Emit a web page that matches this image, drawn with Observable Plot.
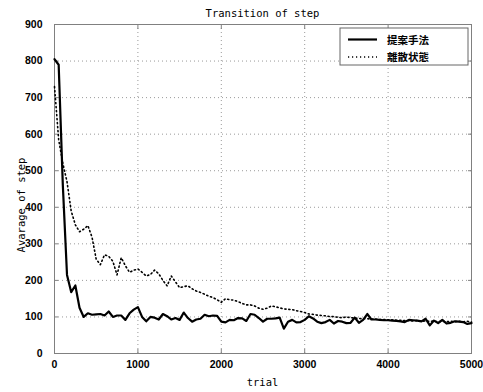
<!DOCTYPE html>
<html><head><meta charset="utf-8">
<script src="https://cdn.jsdelivr.net/npm/d3@7"></script>
<script src="https://cdn.jsdelivr.net/npm/@observablehq/plot@0.6"></script>
<style>body{margin:0;background:#fff} svg{display:block}</style>
</head><body><div id="chart"></div>
<script>
const trials = [0,50,100,150,200,250,300,350,400,450,500,550,600,650,700,750,800,850,900,950,
  1000,1050,1100,1150,1200,1250,1300,1350,1400,1450,1500,1550,1600,1650,1700,1750,1800,1850,1900,1950,
  2000,2050,2100,2150,2200,2250,2300,2350,2400,2450,2500,2550,2600,2650,2700,2750,2800,2850,2900,2950,
  3000,3050,3100,3150,3200,3250,3300,3350,3400,3450,3500,3550,3600,3650,3700,3750,3800,3850,3900,3950,
  4000,4050,4100,4150,4200,4250,4300,4350,4400,4450,4500,4550,4600,4650,4700,4750,4800,4850,4900,4950,5000];
const proposed = [805,790,460,215,168,186,125,100,110,106,107,108,104,115,100,104,104,92,110,120,
  127,100,88,100,98,93,108,102,93,97,92,112,97,87,93,95,106,102,104,103,
  87,85,92,91,97,96,89,108,106,97,87,95,95,96,98,68,87,92,85,86,
  92,102,96,87,83,86,92,82,89,87,83,84,98,84,92,108,93,93,92,91,
  91,90,89,88,86,92,91,90,88,95,77,90,83,92,82,84,88,87,86,81,83];
const discrete = [730,585,520,470,390,352,333,340,350,318,258,243,270,266,252,215,262,240,222,228,
  231,222,212,216,228,218,200,185,212,196,180,183,185,177,171,167,162,157,153,147,
  140,150,147,146,142,137,133,133,130,124,121,124,130,128,125,122,121,120,117,115,
  112,108,107,105,104,103,101,101,99,98,100,98,97,96,95,95,94,94,93,93,
  92,92,91,91,90,90,89,90,88,89,88,89,87,88,87,88,87,88,87,88,86];
const seriesNames = ["提案手法", "離散状態"];
const xTicks = [0, 1000, 2000, 3000, 4000, 5000];
const yTicks = [0, 100, 200, 300, 400, 500, 600, 700, 800, 900];
const titleText = "Transition of step";
const xLabel = "trial";
const yLabel = "Avarage of step";

const rowsProposed = trials.map((t, i) => ({trial: t, step: proposed[i], series: seriesNames[0]}));
const rowsDiscrete = trials.map((t, i) => ({trial: t, step: discrete[i], series: seriesNames[1]}));

const W = 483, H = 392, mT = 24, mR = 12, mB = 39, mL = 54;
const frameColor = "#808080";
const dotDash = "1.2,2.8";
const svg = Plot.plot({
  width: W, height: H,
  marginTop: mT, marginRight: mR, marginBottom: mB, marginLeft: mL,
  style: {fontFamily: "'Liberation Sans', Arial, sans-serif", fontSize: "10.5px", fontWeight: "bold", color: "#000", background: "#fff", overflow: "visible"},
  x: {domain: [0, 5000], ticks: xTicks, label: null},
  y: {domain: [0, 900], ticks: yTicks, label: null},
  marks: [
    Plot.gridX(xTicks, {stroke: "#9a9a9a", strokeOpacity: 1, strokeDasharray: "1,3"}),
    Plot.gridY(yTicks, {stroke: "#9a9a9a", strokeOpacity: 1, strokeDasharray: "1,3"}),
    Plot.axisX(xTicks, {anchor: "bottom", tickSize: -4, tickPadding: 11, tickFormat: d => String(d), stroke: frameColor, fill: "#000", label: null}),
    Plot.axisX(xTicks, {anchor: "top", tickSize: -4, tickFormat: () => "", stroke: frameColor, label: null}),
    Plot.axisY(yTicks, {anchor: "left", tickSize: -4, tickPadding: 16, tickFormat: d => String(d), stroke: frameColor, fill: "#000", label: null}),
    Plot.axisY(yTicks, {anchor: "right", tickSize: -4, tickFormat: () => "", stroke: frameColor, label: null}),
    Plot.frame({stroke: frameColor}),
    Plot.line(rowsDiscrete, {x: "trial", y: "step", stroke: "#000", strokeWidth: 1.6, strokeDasharray: dotDash}),
    Plot.line(rowsProposed, {x: "trial", y: "step", stroke: "#000", strokeWidth: 2.2})
  ]
});
document.getElementById("chart").appendChild(svg);

const s = d3.select(svg);
const mono = "'DejaVu Sans Mono', 'Liberation Mono', monospace";
s.append("text").attr("x", (mL + W - mR) / 2).attr("y", 17).attr("text-anchor", "middle")
  .attr("font-family", mono).attr("font-size", 10.5).attr("font-weight", "normal").attr("fill", "#000").text(titleText);
s.append("text").attr("x", (mL + W - mR) / 2).attr("y", 386).attr("text-anchor", "middle")
  .attr("font-family", mono).attr("font-size", 10.5).attr("font-weight", "normal").attr("fill", "#000").text(xLabel);
s.append("text").attr("transform", "translate(25,205) rotate(-90)").attr("text-anchor", "middle")
  .attr("font-family", mono).attr("font-size", 10.5).attr("font-weight", "normal").attr("fill", "#000").text(yLabel);

// legend
const lg = s.append("g");
lg.append("rect").attr("x", 340).attr("y", 28).attr("width", 128).attr("height", 37)
  .attr("fill", "#fff").attr("stroke", "#666").attr("stroke-width", 1);
const legendStyles = [{w: 2.2, dash: null}, {w: 1.6, dash: dotDash}];
seriesNames.forEach((name, i) => {
  const yy = 39.5 + i * 17.5;
  const ln = lg.append("line").attr("x1", 348).attr("x2", 377).attr("y1", yy).attr("y2", yy)
    .attr("stroke", "#000").attr("stroke-width", legendStyles[i].w);
  if (legendStyles[i].dash) ln.attr("stroke-dasharray", legendStyles[i].dash);
  lg.append("text").attr("x", 387).attr("y", yy + 4).attr("text-anchor", "start")
    .attr("font-family", "'Noto Sans CJK JP', sans-serif").attr("font-size", 10.5).attr("font-weight", "bold")
    .attr("fill", "#000").text(name);
});
</script>
</body></html>
